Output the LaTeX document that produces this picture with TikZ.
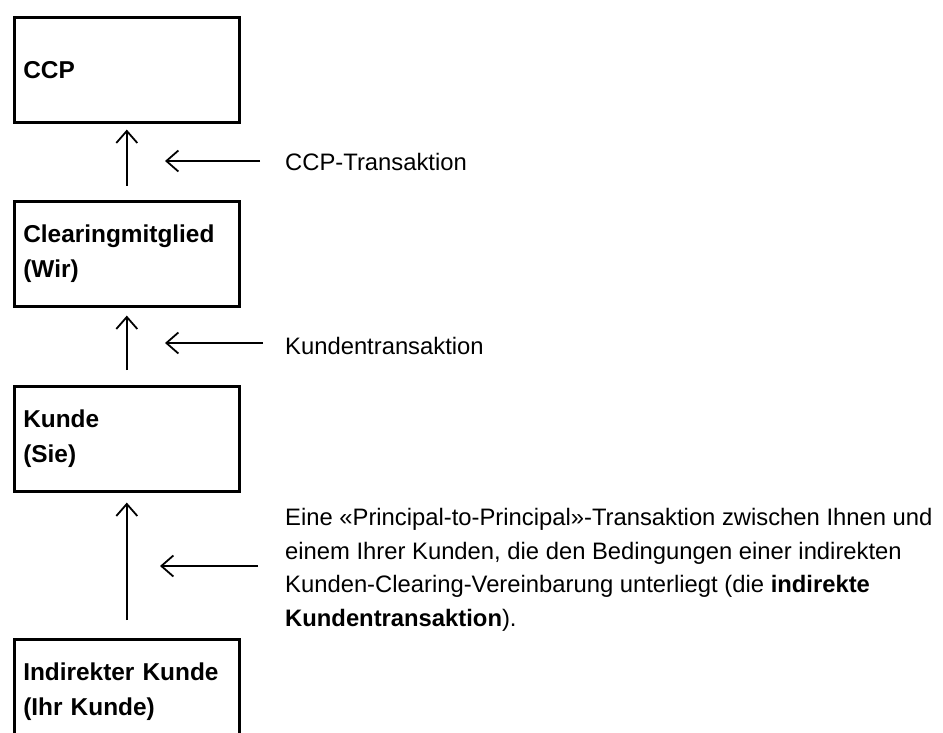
\documentclass[tikz,border=0pt]{standalone}
\usepackage{fontspec}
\setmainfont{Liberation Sans}
\usetikzlibrary{arrows.meta}
\begin{document}
\begin{tikzpicture}[x=1pt,y=-1pt,
  box/.style={draw, line width=2.6pt, rectangle, minimum width=225pt, minimum height=105pt,
    anchor=north west, inner xsep=9pt, inner ysep=0pt, text width=207pt, align=left,
    font=\fontsize{24.4}{34.5}\selectfont\bfseries},
  arr/.style={line width=1.8pt, -{Straight Barb[length=12pt,width=21pt,line width=1.8pt]}},
  lbl/.style={anchor=west, inner sep=0pt, align=left,
    font=\fontsize{23.8}{33.5}\selectfont}]
\useasboundingbox (0,0) rectangle (943,733);
\clip (0,0) rectangle (943,733);
% boxes
\node[box] (ccp) at (13,16) {CCP};
\node[box] (cm) at (13,200) {Clearingmitglied\\(Wir)};
\node[box] (ku) at (13,385) {Kunde\\(Sie)};
\node[box] (ik) at (13,638) {Indirekter Kunde\\(Ihr Kunde)};
% vertical arrows
\draw[arr, shorten <=14pt, shorten >=6pt] (cm.north) -- (ccp.south);
\draw[arr, shorten <=15pt, shorten >=8pt] (ku.north) -- (cm.south);
\draw[arr, shorten <=18pt, shorten >=10pt] (ik.north) -- (ku.south);
% labels
\node[lbl] (l1) at (285,161.5) {CCP-Transaktion};
\node[lbl] (l2) at (285,346) {Kundentransaktion};
\node[lbl] (l3) at (285,570) {Eine «Principal-to-Principal»-Transaktion zwischen Ihnen und\\
einem Ihrer Kunden, die den Bedingungen einer indirekten\\
Kunden-Clearing-Vereinbarung unterliegt (die \textbf{indirekte}\\
\textbf{Kundentransaktion}).};
% horizontal arrows
\coordinate (s1) at (260,161);
\coordinate (t1) at (165,161);
\coordinate (s2) at (263,343);
\coordinate (t2) at (165,343);
\coordinate (s3) at (258,566);
\coordinate (t3) at (160,566);
\draw[arr] (s1) -- (t1);
\draw[arr] (s2) -- (t2);
\draw[arr] (s3) -- (t3);
\end{tikzpicture}
\end{document}
